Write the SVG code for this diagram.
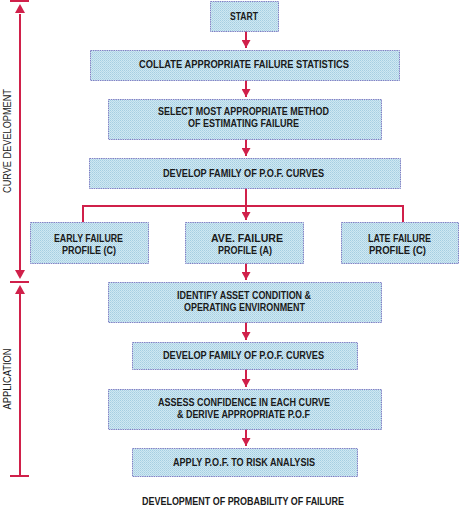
<svg xmlns="http://www.w3.org/2000/svg" width="459" height="511" viewBox="0 0 459 511">
<defs>
<pattern id="dots" width="2" height="2" patternUnits="userSpaceOnUse">
<rect width="2" height="2" fill="#cfe8f2"/>
<rect width="1" height="1" fill="#a6cfe2"/>
<rect x="1" y="1" width="1" height="1" fill="#b4d8e8"/>
</pattern>
<marker id="ah" markerWidth="10" markerHeight="9" refX="5" refY="9" orient="auto-start-reverse" markerUnits="userSpaceOnUse" viewBox="0 0 10 9">
<path d="M0,0 L10,0 L5,9 Z" fill="#d0204a" transform="rotate(0)"/>
</marker>
<marker id="ad" markerWidth="10" markerHeight="9" refX="9" refY="5" orient="auto" markerUnits="userSpaceOnUse" viewBox="0 0 10 10">
<path d="M0,0 L9,5 L0,10 Z" fill="#d0204a"/>
</marker>
</defs>
<style>
.box{fill:url(#dots);stroke:#7f7fc4;stroke-width:1;stroke-dasharray:1.5 0.8}
.t{font-family:"Liberation Sans",Arial,sans-serif;font-weight:bold;font-size:10px;fill:#1a1a1a;text-anchor:start}
.v{font-family:"Liberation Sans",Arial,sans-serif;font-size:10px;fill:#1a1a1a;text-anchor:middle}
.c{stroke:#d0204a;stroke-width:2;fill:none}
.tick{stroke:#d0204a;stroke-width:2}
</style>
<g id="connectors">
<line class="c" x1="246" y1="31" x2="246" y2="48" marker-end="url(#ad)"/>
<line class="c" x1="246" y1="80" x2="246" y2="97" marker-end="url(#ad)"/>
<line class="c" x1="246" y1="139" x2="246" y2="156" marker-end="url(#ad)"/>
<line class="c" x1="246" y1="188" x2="246" y2="220" marker-end="url(#ad)"/>
<polyline class="c" points="83,222 83,206 403,206 403,222"/>
<line class="c" x1="246" y1="263" x2="246" y2="280" marker-end="url(#ad)"/>
<line class="c" x1="246" y1="322" x2="246" y2="340" marker-end="url(#ad)"/>
<line class="c" x1="246" y1="369" x2="246" y2="387" marker-end="url(#ad)"/>
<line class="c" x1="246" y1="429" x2="246" y2="446" marker-end="url(#ad)"/>
</g>
<g id="bracket">
<line class="tick" x1="10" y1="1" x2="29" y2="1"/>
<line class="c" x1="20" y1="14" x2="20" y2="270"/>
<polygon points="15,13 25,13 20,4" fill="#d0204a"/>
<polygon points="15,270 25,270 20,279" fill="#d0204a"/>
<line class="tick" x1="10" y1="282" x2="29" y2="282"/>
<polygon points="15,294 25,294 20,285" fill="#d0204a"/>
<line class="c" x1="20" y1="293" x2="20" y2="476"/>
<line class="tick" x1="10" y1="476" x2="29" y2="476"/>
<text class="v" transform="translate(11,141) rotate(-90)" textLength="104" lengthAdjust="spacingAndGlyphs">CURVE DEVELOPMENT</text>
<text class="v" transform="translate(11,379) rotate(-90)" textLength="61" lengthAdjust="spacingAndGlyphs">APPLICATION</text>
</g>
<g id="start"><rect class="box" x="210.5" y="1.5" width="68" height="30"/><text class="t" x="230" y="20" textLength="28" lengthAdjust="spacingAndGlyphs">START</text></g>
<g id="collate"><rect class="box" x="90.5" y="50.5" width="309" height="30"/><text class="t" x="139" y="68" textLength="210" lengthAdjust="spacingAndGlyphs">COLLATE APPROPRIATE FAILURE STATISTICS</text></g>
<g id="select"><rect class="box" x="108.5" y="99.5" width="273" height="40"/><text class="t" x="158" y="114.5" textLength="171" lengthAdjust="spacingAndGlyphs">SELECT MOST APPROPRIATE METHOD</text><text class="t" x="188" y="127" textLength="111" lengthAdjust="spacingAndGlyphs">OF ESTIMATING FAILURE</text></g>
<g id="develop1"><rect class="box" x="89.5" y="158.5" width="311" height="30"/><text class="t" x="163" y="177" textLength="161" lengthAdjust="spacingAndGlyphs">DEVELOP FAMILY OF P.O.F. CURVES</text></g>
<g id="early"><rect class="box" x="30.5" y="222.5" width="118" height="41"/><text class="t" x="54" y="242" textLength="69" lengthAdjust="spacingAndGlyphs">EARLY FAILURE</text><text class="t" x="62" y="254" textLength="54" lengthAdjust="spacingAndGlyphs">PROFILE (C)</text></g>
<g id="ave"><rect class="box" x="185.5" y="222.5" width="118" height="41"/><text class="t" x="211" y="242" textLength="72" lengthAdjust="spacingAndGlyphs">AVE. FAILURE</text><text class="t" x="218" y="254" textLength="54" lengthAdjust="spacingAndGlyphs">PROFILE (A)</text></g>
<g id="late"><rect class="box" x="341.5" y="222.5" width="117" height="41"/><text class="t" x="368" y="242" textLength="63" lengthAdjust="spacingAndGlyphs">LATE FAILURE</text><text class="t" x="369" y="254" textLength="57" lengthAdjust="spacingAndGlyphs">PROFILE (C)</text></g>
<g id="identify"><rect class="box" x="108.5" y="282.5" width="273" height="40"/><text class="t" x="177" y="299" textLength="134" lengthAdjust="spacingAndGlyphs">IDENTIFY ASSET CONDITION &amp;</text><text class="t" x="184" y="311" textLength="121" lengthAdjust="spacingAndGlyphs">OPERATING ENVIRONMENT</text></g>
<g id="develop2"><rect class="box" x="132.5" y="342.5" width="225" height="27"/><text class="t" x="163" y="359" textLength="161" lengthAdjust="spacingAndGlyphs">DEVELOP FAMILY OF P.O.F. CURVES</text></g>
<g id="assess"><rect class="box" x="108.5" y="389.5" width="273" height="40"/><text class="t" x="158" y="406" textLength="172" lengthAdjust="spacingAndGlyphs">ASSESS CONFIDENCE IN EACH CURVE</text><text class="t" x="177" y="418" textLength="133" lengthAdjust="spacingAndGlyphs">&amp; DERIVE APPROPRIATE P.O.F</text></g>
<g id="apply"><rect class="box" x="132.5" y="448.5" width="225" height="28"/><text class="t" x="173" y="466" textLength="142" lengthAdjust="spacingAndGlyphs">APPLY P.O.F. TO RISK ANALYSIS</text></g>
<text class="t" x="142" y="505" textLength="202" lengthAdjust="spacingAndGlyphs">DEVELOPMENT OF PROBABILITY OF FAILURE</text>
</svg>
